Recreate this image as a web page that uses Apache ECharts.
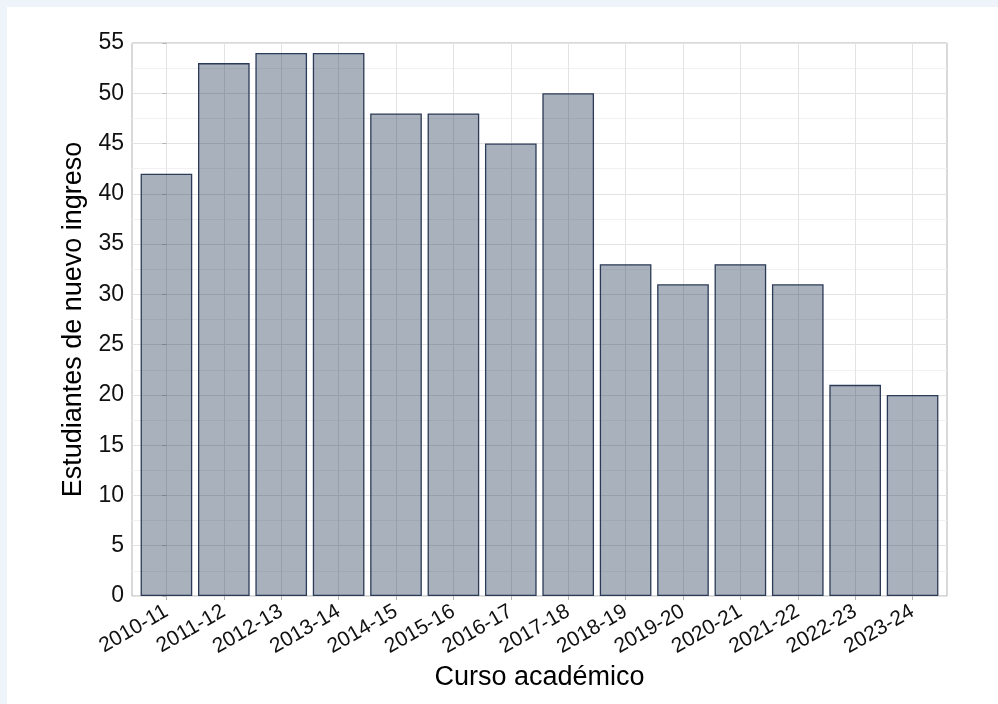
<!DOCTYPE html>
<html>
<head>
<meta charset="utf-8">
<script src="https://cdn.jsdelivr.net/npm/echarts@6/dist/echarts.min.js"></script>
<style>
  html, body { margin: 0; padding: 0; background: #eef4f9; }
  #chart { position: absolute; left: 7px; top: 7px; width: 991px; height: 697px; background: #ffffff; }
</style>
</head>
<body>
<div id="chart"></div>
<script>
const categories = ['2010-11','2011-12','2012-13','2013-14','2014-15','2015-16','2016-17','2017-18','2018-19','2019-20','2020-21','2021-22','2022-23','2023-24'];
const students = [42, 53, 54, 54, 48, 48, 45, 50, 33, 31, 33, 31, 21, 20];
const yTicks = [0, 5, 10, 15, 20, 25, 30, 35, 40, 45, 50, 55];

const idx = categories.map((c, i) => i);
const barData = students.map((v, i) => [i, v]);
const gridW = 815;
const unitPx = gridW / (categories.length - 1 + 1.2);
const font = 'Liberation Sans, Arial, sans-serif';

const chart = echarts.init(document.getElementById('chart'), null, { renderer: 'canvas' });
chart.setOption({
  animation: false,
  backgroundColor: '#ffffff',
  grid: {
    left: 125, top: 36, width: gridW, height: 553,
    show: true, borderColor: '#b3b3b3', borderWidth: 1, backgroundColor: '#ffffff',
    containLabel: false
  },
  xAxis: {
    type: 'value',
    min: -0.6, max: categories.length - 1 + 0.6,
    splitLine: { show: false },
    axisLine: { show: false },
    axisTick: { show: true, customValues: idx, length: 4, lineStyle: { color: '#b3b3b3', width: 1 } },
    axisLabel: {
      customValues: idx,
      formatter: v => categories[Math.round(v)] || '',
      rotate: 30, fontSize: 21, color: '#111111', fontFamily: font, margin: 14
    },
    name: 'Curso académico',
    nameLocation: 'middle', nameGap: 63,
    nameTextStyle: { fontSize: 27, color: '#000', fontFamily: font }
  },
  yAxis: {
    type: 'value',
    min: 0, max: 55, interval: 5,
    axisLine: { show: false },
    axisTick: { show: true, length: 4, lineStyle: { color: '#b3b3b3', width: 1 } },
    axisLabel: {
      formatter: v => (yTicks.indexOf(v) >= 0 ? String(v) : ''),
      fontSize: 23, color: '#111111', fontFamily: font, margin: 8
    },
    splitLine: { show: true, lineStyle: { color: '#e3e3e3', width: 1 } },
    minorTick: { show: false, splitNumber: 2 },
    minorSplitLine: { show: true, lineStyle: { color: '#f1f1f1', width: 1 } },
    name: 'Estudiantes de nuevo ingreso',
    nameLocation: 'middle', nameGap: 43,
    nameTextStyle: { fontSize: 27, color: '#000', fontFamily: font }
  },
  series: [
    {
      type: 'scatter',
      data: [],
      silent: true,
      z: 0,
      markLine: {
        silent: true,
        z: 0,
        symbol: ['none', 'none'],
        label: { show: false },
        lineStyle: { color: '#e3e3e3', width: 1, type: 'solid' },
        animation: false,
        data: idx.map(i => ({ xAxis: i }))
      }
    },
    {
      type: 'bar',
      data: barData,
      barWidth: unitPx * 0.9,
      z: 2,
      itemStyle: {
        color: 'rgba(30, 50, 82, 0.38)',
        borderColor: '#2b3a56',
        borderWidth: 1.3
      }
    }
  ]
});
</script>
</body>
</html>
